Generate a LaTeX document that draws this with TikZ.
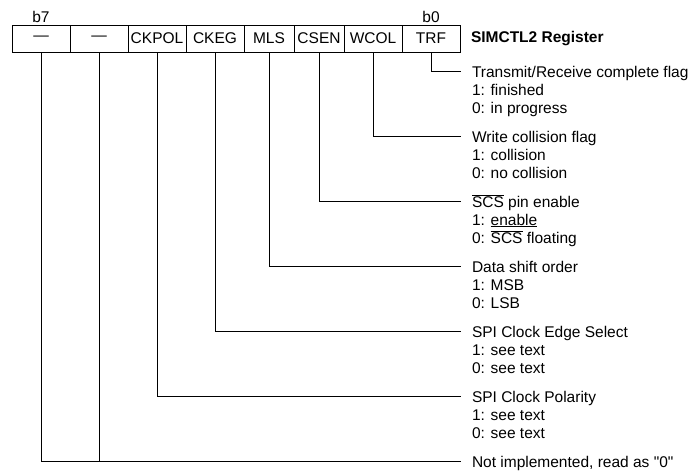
\documentclass[tikz,border=0pt]{standalone}
\usepackage{fontspec}
\setmainfont{Liberation Sans}[Ligatures=TeXOff]
\usetikzlibrary{positioning}

\newcommand{\scsbar}{$\overline{\mbox{SCS}}$}

\begin{document}
\begin{tikzpicture}[x=1pt,y=-1pt,line width=1pt,node distance=0pt,
        font=\fontsize{15.5}{18}\selectfont,
        every node/.style={inner sep=0pt,outer sep=0pt},
        bitcell/.style={draw,minimum height=27pt,minimum width=58pt},
        desc/.style={anchor=base west,yshift=-41.6pt,align=left}]
    \useasboundingbox (0,0) rectangle (695,471);
    % register cells, b7 ... b0
    \node[bitcell] (r_7) at (41,38.5) {—};
    \node[bitcell] (r_6) [right=of r_7] {—};
    \node[bitcell] (r_5) [right=of r_6] {CKPOL};
    \node[bitcell] (r_4) [right=of r_5] {CKEG};
    \node[bitcell, minimum width=50pt] (r_3) [right=of r_4] {MLS};
    \node[bitcell, minimum width=50pt] (r_2) [right=of r_3] {CSEN};
    \node[bitcell] (r_1) [right=of r_2] {WCOL};
    \node[bitcell] (r_0) [right=of r_1] {TRF};
    \node (b_7) [above=2pt of r_7] {b7};
    \node (b_0) [above=2pt of r_0] {b0};
    \node (title) [right=11pt of r_0] {\bfseries SIMCTL2 Register};
    % line ends
    \coordinate (e_0) at (461,71.5);
    \coordinate (e_1) at (461,136.5);
    \coordinate (e_2) at (461,201.5);
    \coordinate (e_3) at (461,266.5);
    \coordinate (e_4) at (461,331.5);
    \coordinate (e_5) at (461,396.5);
    \coordinate (e_6) at (461,461.5);
    % bit descriptions
    \node (d_0) [right=11pt of e_0, desc] {Transmit/Receive complete flag\\1: finished\\0: in progress};
    \node (d_1) [right=11pt of e_1, desc] {Write collision flag\\1: collision\\0: no collision};
    \node (d_2) [right=11pt of e_2, desc] {\scsbar{} pin enable\\1: \underline{enable}\\0: \scsbar{} floating};
    \node (d_3) [right=11pt of e_3, desc] {Data shift order\\1: MSB\\0: LSB};
    \node (d_4) [right=11pt of e_4, desc] {SPI Clock Edge Select\\1: see text\\0: see text};
    \node (d_5) [right=11pt of e_5, desc] {SPI Clock Polarity\\1: see text\\0: see text};
    \node (d_6) [right=11pt of e_6, desc, yshift=36pt] {Not implemented, read as "0"};
    \draw (r_0.south) |- (e_0);
    \draw (r_1.south) |- (e_1);
    \draw (r_2.south) |- (e_2);
    \draw (r_3.south) |- (e_3);
    \draw (r_4.south) |- (e_4);
    \draw (r_5.south) |- (e_5);
    \draw (r_6.south) -- (r_6.south |- e_6);
    \draw (r_7.south) |- (e_6);
\end{tikzpicture}
\end{document}
